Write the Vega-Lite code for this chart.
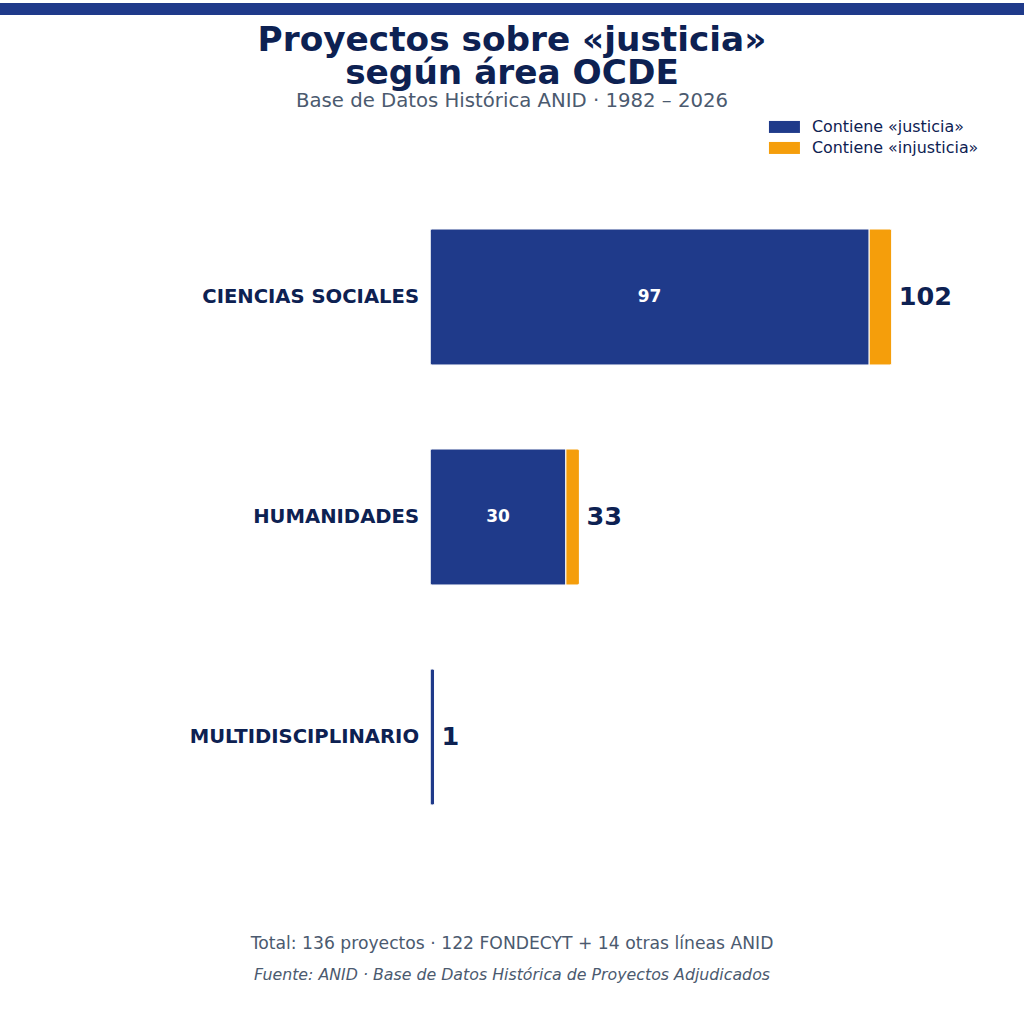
{
  "$schema": "https://vega.github.io/schema/vega-lite/v6.json",
  "padding": {"top": 3, "left": 0, "right": 0, "bottom": 0},
  "background": "white",
  "datasets": {
    "segmentos": [
      {"area": "CIENCIAS SOCIALES", "tipo": "Contiene «justicia»", "n": 97},
      {"area": "CIENCIAS SOCIALES", "tipo": "Contiene «injusticia»", "n": 5},
      {"area": "HUMANIDADES", "tipo": "Contiene «justicia»", "n": 30},
      {"area": "HUMANIDADES", "tipo": "Contiene «injusticia»", "n": 3},
      {"area": "MULTIDISCIPLINARIO", "tipo": "Contiene «justicia»", "n": 1}
    ],
    "totales": [
      {"area": "CIENCIAS SOCIALES", "total": 102},
      {"area": "HUMANIDADES", "total": 33},
      {"area": "MULTIDISCIPLINARIO", "total": 1}
    ]
  },
  "title": {
    "text": "Total: 136 proyectos · 122 FONDECYT + 14 otras líneas ANID",
    "subtitle": "Fuente: ANID · Base de Datos Histórica de Proyectos Adjudicados",
    "orient": "bottom",
    "anchor": "middle",
    "offset": 88,
    "fontSize": 17.2,
    "fontWeight": "normal",
    "color": "#4b5a6f",
    "subtitleFontSize": 15.8,
    "subtitleFontStyle": "italic",
    "subtitleColor": "#4b5a6f",
    "subtitlePadding": 16
  },
  "spacing": 9,
  "vconcat": [
    {
      "width": 1024,
      "height": 12,
      "data": {"values": [{"franja": "superior"}]},
      "mark": {"type": "rect", "color": "#1f3a8a"},
      "encoding": {}
    },
    {
      "width": 1024,
      "height": 660,
      "title": {
        "text": ["Proyectos sobre «justicia»", "según área OCDE"],
        "subtitle": "Base de Datos Histórica ANID · 1982 – 2026",
        "anchor": "middle",
        "fontSize": 34.3,
        "lineHeight": 33,
        "fontWeight": "bold",
        "color": "#0d2152",
        "subtitleFontSize": 19.7,
        "subtitleColor": "#4b5a6f",
        "subtitlePadding": 0,
        "offset": 76
      },
      "layer": [
        {
          "data": {"name": "segmentos"},
          "mark": {"type": "bar", "cornerRadius": 2.5, "stroke": "white", "strokeWidth": 1},
          "encoding": {
            "y": {
              "field": "area",
              "type": "nominal",
              "scale": {"paddingInner": 0.38, "paddingOuter": 0.19},
              "axis": null
            },
            "x": {
              "field": "n",
              "type": "quantitative",
              "stack": "zero",
              "scale": {"domain": [-95, 131.2], "nice": false, "zero": false},
              "axis": null
            },
            "color": {
              "field": "tipo",
              "type": "nominal",
              "scale": {
                "domain": ["Contiene «justicia»", "Contiene «injusticia»"],
                "range": ["#1f3a8a", "#f59e0b"]
              },
              "legend": {
                "title": null,
                "orient": "none",
                "legendX": 776.5,
                "legendY": 116,
                "padding": 0,
                "symbolType": "M-2.583,-1H2.583V1H-2.583Z",
                "symbolSize": 144,
                "symbolStrokeWidth": 0,
                "symbolOpacity": 1,
                "labelFontSize": 15.9,
                "labelColor": "#0d2152",
                "labelOffset": 19.5,
                "labelLimit": 300,
                "rowPadding": 4
              }
            },
            "order": {"field": "tipo", "sort": "descending"}
          }
        },
        {
          "data": {"name": "segmentos"},
          "transform": [
            {"filter": "datum.tipo === 'Contiene «justicia»' && datum.n >= 10"}
          ],
          "mark": {"type": "text", "color": "white", "fontWeight": "bold", "fontSize": 17},
          "encoding": {
            "y": {"field": "area", "type": "nominal", "axis": null},
            "x": {
              "field": "n",
              "type": "quantitative",
              "scale": {"domain": [-190, 262.4], "nice": false, "zero": false},
              "axis": null
            },
            "text": {"field": "n", "type": "quantitative"}
          }
        },
        {
          "data": {"name": "totales"},
          "mark": {"type": "text", "align": "left", "dx": 7, "color": "#0d2152", "fontWeight": "bold", "fontSize": 25.5},
          "encoding": {
            "y": {"field": "area", "type": "nominal", "axis": null},
            "x": {
              "field": "total",
              "type": "quantitative",
              "scale": {"domain": [-95, 131.2], "nice": false, "zero": false},
              "axis": null
            },
            "text": {"field": "total", "type": "quantitative"}
          }
        },
        {
          "data": {"name": "totales"},
          "mark": {"type": "text", "align": "right", "dx": -11, "color": "#0d2152", "fontWeight": "bold", "fontSize": 19.6},
          "encoding": {
            "y": {"field": "area", "type": "nominal", "axis": null},
            "x": {
              "datum": 0,
              "type": "quantitative",
              "scale": {"domain": [-95, 131.2], "nice": false, "zero": false},
              "axis": null
            },
            "text": {"field": "area", "type": "nominal"}
          }
        }
      ],
      "resolve": {"scale": {"x": "independent"}}
    }
  ],
  "config": {
    "font": "DejaVu Sans",
    "view": {"stroke": null},
    "title": {"font": "DejaVu Sans", "subtitleFont": "DejaVu Sans"},
    "legend": {"labelFont": "DejaVu Sans"}
  }
}
